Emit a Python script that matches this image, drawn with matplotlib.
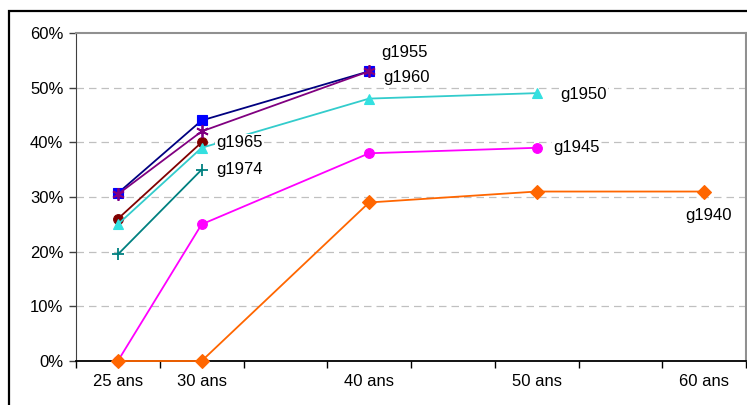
import matplotlib.pyplot as plt
from matplotlib.patches import Rectangle

plt.rcParams['font.family'] = ['Liberation Sans', 'DejaVu Sans']

# category axis: one slot every 5 years, only some slots labelled
tick_labels = ['25 ans', '30 ans', '', '40 ans', '', '50 ans', '', '60 ans']

# share per generation (None = no value at that age)
g1940 = [0, 0, None, 29, None, 31, None, 31]
g1945 = [0, 25, None, 38, None, 39, None, None]
g1950 = [25, 39, None, 48, None, 49, None, None]
g1955 = [30.7, 44, None, 53, None, None, None, None]
g1960 = [30.5, 42, None, 53, None, None, None, None]
g1965 = [26, 40, None, None, None, None, None, None]
g1974 = [19.5, 35, None, None, None, None, None, None]

series = [
    # name, values, line colour, marker, marker face, marker size, zorder
    ('g1974', g1974, '#008080', '+', '#008080', 9, 3),
    ('g1965', g1965, '#800000', 'o', '#800000', 7, 3),
    ('g1950', g1950, '#33CCCC', '^', '#33E0E0', 7, 4),
    ('g1945', g1945, '#FF00FF', 'o', '#FF00FF', 7, 4),
    ('g1955', g1955, '#000080', 's', '#0000FF', 6.5, 5),
    ('g1960', g1960, '#800080', (6, 2, 0), '#800080', 9, 6),
    ('g1940', g1940, '#FF6600', 'D', '#FF6600', 7.5, 7),
]

# label text positions (category index, value)
label_pos = {
    'g1955': (3.15, 56.5),
    'g1960': (3.17, 51.9),
    'g1950': (5.28, 48.7),
    'g1945': (5.20, 39.1),
    'g1940': (6.78, 26.7),
    'g1965': (1.17, 39.9),
    'g1974': (1.17, 35.1),
}

fig = plt.figure(figsize=(7.47, 4.05), dpi=100)
ax = fig.add_axes([76 / 747, 44 / 405, 670 / 747, 328 / 405])

for name, vals, color, marker, face, ms, z in series:
    xs = [i for i, v in enumerate(vals) if v is not None]
    ys = [vals[i] for i in xs]
    ax.plot(xs, ys, color=color, lw=1.3, marker=marker, markersize=ms,
            markerfacecolor=face, markeredgecolor=face if marker not in ('+',) else color,
            markeredgewidth=1.3 if marker in ('+', (6, 2, 0)) else 0.8,
            zorder=z, clip_on=False)

for name, (x, y) in label_pos.items():
    ax.text(x, y, name, fontsize=12, ha='left', va='center', zorder=10,
            bbox=dict(facecolor='white', edgecolor='none', pad=1.0))

ax.set_xlim(-0.5, 7.5)
ax.set_ylim(0, 60)
ax.set_yticks(range(0, 61, 10))
ax.set_yticklabels([f'{v}%' for v in range(0, 61, 10)])
ax.set_xticks(range(8))
ax.set_xticklabels(tick_labels)
ax.set_xticks([i - 0.5 for i in range(9)], minor=True)

ax.tick_params(axis='x', which='major', length=0, pad=9, labelsize=12)
ax.tick_params(axis='x', which='minor', length=5, width=1, color='black', direction='out')
ax.tick_params(axis='y', length=5, width=1, color='#404040', labelsize=12, pad=4)

for v in range(10, 60, 10):
    ax.axhline(v, color='#C0C0C0', lw=0.9, ls=(0, (6, 4)), zorder=1)

ax.spines['top'].set_color('#909090')
ax.spines['right'].set_color('#909090')
ax.spines['top'].set_linewidth(1.5)
ax.spines['right'].set_linewidth(1.5)
ax.spines['left'].set_color('#404040')
ax.spines['bottom'].set_color('black')
ax.spines['bottom'].set_linewidth(1.3)

# outer frame of the chart area
fig.patches.append(Rectangle((8.5 / 747, -0.1), 1.2, 393.5 / 405 + 0.1,
                             transform=fig.transFigure, fill=False,
                             edgecolor='black', lw=1.6))

fig.savefig('out.png', dpi=100)
